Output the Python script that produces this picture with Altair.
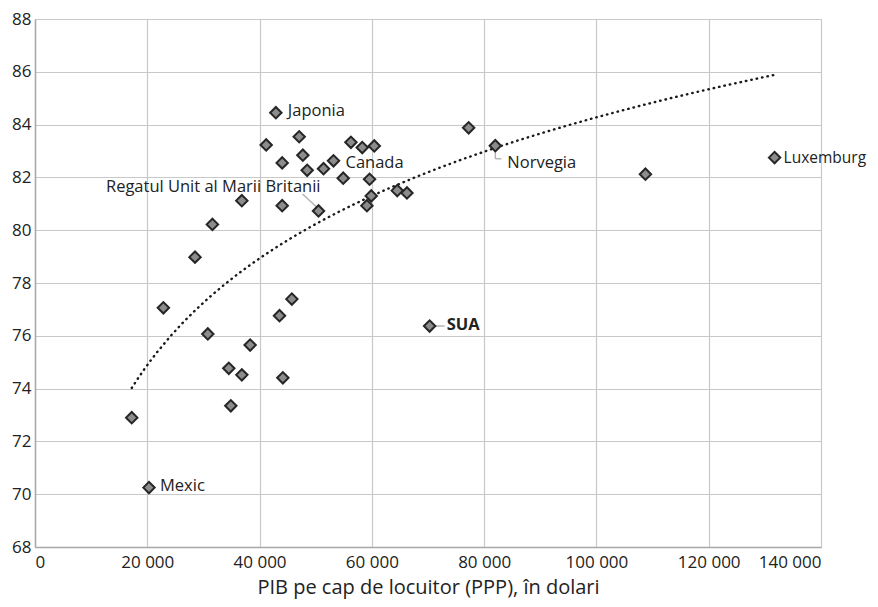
import altair as alt
import pandas as pd

gdp = [17230, 20300, 22870, 28500, 30780, 31600, 34520, 34880, 36840, 36840,
       38320, 41180, 42900, 43550, 44030, 44030, 44150, 45750, 47060, 47710,
       48480, 50500, 51390, 53170, 54900, 56270, 58290, 59120, 59590, 59890,
       60430, 64520, 66250, 70290, 77240, 81990, 108730, 131730]
life = [72.90, 70.25, 77.06, 78.98, 76.07, 80.22, 74.77, 73.35, 74.52, 81.12,
        75.65, 83.23, 84.45, 76.76, 82.55, 80.93, 74.41, 77.39, 83.54, 82.84,
        82.27, 80.73, 82.33, 82.63, 81.97, 83.33, 83.13, 80.93, 81.93, 81.30,
        83.19, 81.50, 81.41, 76.37, 83.88, 83.20, 82.12, 82.75]
names = ["", "Mexic", "", "", "", "", "", "", "", "",
         "", "", "Japonia", "", "", "", "", "", "", "",
         "", "Regatul Unit al Marii Britanii", "", "Canada", "", "", "", "", "", "",
         "", "", "", "SUA", "", "Norvegia", "", "Luxemburg"]

x_ticks = [0, 20000, 40000, 60000, 80000, 100000, 120000, 140000]
y_ticks = [68, 70, 72, 74, 76, 78, 80, 82, 84, 86, 88]
x_title = "PIB pe cap de locuitor (PPP), în dolari"

df = pd.DataFrame({"gdp": gdp, "life": life, "name": names})

FONT = "Open Sans"
TXT = "#222222"

xs = alt.Scale(domain=[0, 140000], nice=False, zero=False)
ys = alt.Scale(domain=[68, 88], nice=False, zero=False)

xax = alt.Axis(values=x_ticks, grid=True, gridColor="#c8c8c8", gridWidth=1.2,
               domainColor="#a8a8a8", domainWidth=1.5, ticks=False,
               labelFont=FONT, labelFontSize=17, labelColor=TXT, labelPadding=7,
               labelExpr="replace(format(datum.value, ','), ',', ' ')",
               title=x_title, titleFont=FONT, titleFontSize=20, titleFontWeight=500,
               titleColor=TXT, titlePadding=7)
yax = alt.Axis(values=y_ticks, grid=True, gridColor="#c8c8c8", gridWidth=1.2,
               domainColor="#a8a8a8", domainWidth=1.5, ticks=False,
               labelFont=FONT, labelFontSize=17, labelColor=TXT, labelPadding=4,
               title=None)

base = alt.Chart(df)

trend = base.transform_regression("gdp", "life", method="log").mark_line(
    color="#1a1a1a", strokeWidth=2.4, strokeDash=[0.5, 5], strokeCap="round"
).encode(x=alt.X("gdp:Q", scale=xs, axis=xax), y=alt.Y("life:Q", scale=ys, axis=yax))

def leader(name, **kw):
    return base.transform_filter(alt.datum.name == name).mark_rule(
        color="#b4b4b4", strokeWidth=1.5, **kw
    ).encode(x=alt.X("gdp:Q", scale=xs), y=alt.Y("life:Q", scale=ys),
             x2="gdp:Q", y2="life:Q")

leaders = [
    leader("Regatul Unit al Marii Britanii", xOffset=-16, yOffset=-17, x2Offset=-2, y2Offset=-4),
    leader("SUA", xOffset=5, x2Offset=15, yOffset=0, y2Offset=0),
    leader("Norvegia", xOffset=0, x2Offset=0, yOffset=5, y2Offset=13),
    leader("Norvegia", xOffset=0, x2Offset=6, yOffset=13, y2Offset=13),
]

points = base.mark_point(shape="diamond", size=130, filled=True, fill="#8c8c8c",
                         stroke="#262626", strokeWidth=2, opacity=1).encode(
    x=alt.X("gdp:Q", scale=xs), y=alt.Y("life:Q", scale=ys))

def label(name, dx, dy, align="left", weight="normal", size=16.5):
    return base.transform_filter(alt.datum.name == name).mark_text(
        font=FONT, fontSize=size, color=TXT, align=align, baseline="middle",
        dx=dx, dy=dy, fontWeight=weight
    ).encode(x=alt.X("gdp:Q", scale=xs), y=alt.Y("life:Q", scale=ys), text="name:N")

labels = [
    label("Japonia", 12, -2),
    label("Canada", 12, 2),
    label("Regatul Unit al Marii Britanii", 2, -24, align="right"),
    label("Norvegia", 12, 17),
    label("Luxemburg", 9, 0, size=15.5),
    label("Mexic", 11, -2),
    label("SUA", 17, -1, weight="bold"),
]

chart = alt.layer(trend, *leaders, points, *labels).properties(
    width=786, height=528,
    autosize=alt.AutoSizeParams(type="none"),
    padding={"left": 27, "top": 11, "right": 49, "bottom": 52},
).configure_view(stroke=None).configure(background="white")

chart.save("out.html", embed_options={"renderer": "svg", "actions": False})
